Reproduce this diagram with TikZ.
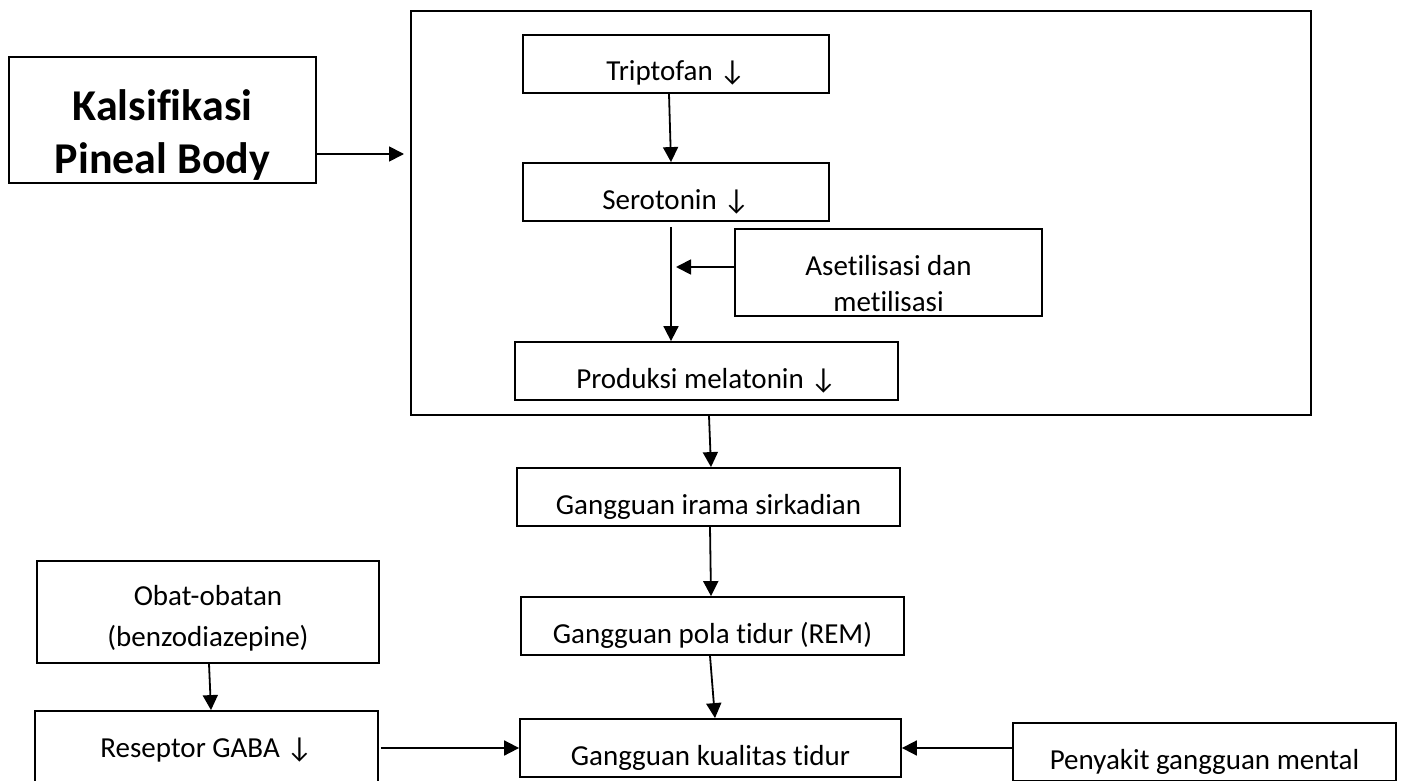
\documentclass[tikz,border=0pt]{standalone}
\usepackage{fontspec}
\setmainfont{Carlito}[Ligatures=NoCommon]
\newcommand{\turun}{↓}
\usetikzlibrary{positioning,arrows.meta}

\begin{document}
\begin{tikzpicture}[x=1pt,y=-1pt]
\useasboundingbox (0,0) rectangle (1403,781);
% Draw Flow Diagram
   \begin{scope}[ >={Triangle[length=15pt,width=15pt]}, line width=1.8pt,
                   block/.style={rectangle,draw,inner sep=0pt,font=\fontsize{29}{36}\selectfont,
                                 minimum width=306pt,minimum height=58pt},
                   oneline/.style={text height=46pt,text depth=12pt},
                   title/.style={block,align=center,font=\bfseries\fontsize{44}{52}\selectfont} ]
     \node [block,minimum width=900pt,minimum height=404pt] (frame) at (861,213) {};
     \node [title,minimum width=307pt,text height=116pt,text depth=10pt]
           (kalsi) at (162.5,120) {Kalsifikasi\\Pineal Body};
     \node [block,oneline] (trip) at (676,64)  {Triptofan \turun};
     \node [block,oneline] (sero) at (676,192) {Serotonin \turun};
     \node [block,align=center,minimum width=307pt,text height=82pt,text depth=5pt]
           (aset) at (888.5,272.5) {Asetilisasi dan\\metilisasi};
     \node [block,oneline,minimum width=383pt] (prod)  at (706.5,371) {Produksi melatonin \turun};
     \node [block,oneline,minimum width=383pt] (irama) at (708.5,497) {Gangguan irama sirkadian};
     \node [block,oneline,minimum width=383pt] (pola)  at (712.5,626) {Gangguan pola tidur (REM)};
     \node [block,oneline,minimum width=381pt] (kual)  at (710.5,748) {Gangguan kualitas tidur};
     \node [block,align=center,minimum width=342pt,text height=85pt,text depth=17pt]
           (obat) at (208,612) {Obat-obatan\\[5pt](benzodiazepine)};
     \node [block,text height=46pt,text depth=35pt,minimum width=343pt]
           (gaba) at (206.5,751.5) {Reseptor GABA \turun};
     \node [block,oneline,minimum width=383pt] (peny) at (1204.5,752) {Penyakit gangguan mental};

     \coordinate (inpt) at (404,154);
     \coordinate (join) at (676,267);
     \draw [->] (kalsi.east |- inpt) -- (inpt);
     \draw [->] ([xshift=-7pt]trip.south) -- ([xshift=-5pt]sero.north);
     \draw [->] ([xshift=-5pt,yshift=-5pt]sero.south) -- ([xshift=-35.5pt]prod.north);
     \draw [->] (aset.west |- join) -- (join);
     \draw [->] ([xshift=2.5pt]prod.south |- frame.south) -- ([xshift=2.5pt]irama.north);
     \draw [->] ([xshift=1.5pt]irama.south) -- ([xshift=-1.5pt]pola.north);
     \draw [->] ([xshift=-2.5pt]pola.south) -- ([xshift=4.5pt]kual.north);
     \draw [->] ([xshift=1pt]obat.south) -- ([xshift=4.5pt]gaba.north);
     \draw [->] ([xshift=2pt]gaba.east |- kual.west) -- (kual.west);
     \draw [->] (peny.west |- kual.east) -- (kual.east);
   \end{scope}
\end{tikzpicture}
\end{document}
